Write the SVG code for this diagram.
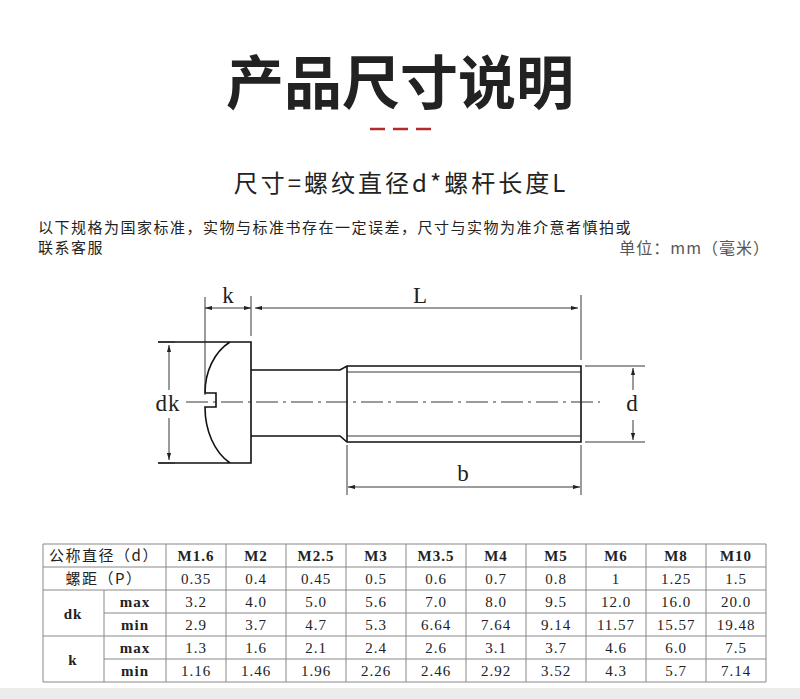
<svg xmlns="http://www.w3.org/2000/svg" width="800" height="699" viewBox="0 0 800 699">
<style>
.cjk{font-family:"Noto Sans CJK SC","Noto Sans",sans-serif}
.ln{stroke:#111;fill:none;stroke-width:1.6}
.th{stroke:#222;fill:none;stroke-width:0.9}
.dl{font-family:"Liberation Serif",serif;font-size:23px;fill:#222}
.tb{stroke:#888;stroke-width:1;fill:none}
.tt{font-family:"Liberation Serif","Noto Sans CJK SC",serif;font-size:15px;fill:#222;text-anchor:middle;letter-spacing:1px}
.tc{font-family:"Noto Sans CJK SC",sans-serif;font-size:15px;fill:#222;text-anchor:middle}
</style>
<defs>
<marker id="a" viewBox="0 0 10 6" refX="10" refY="3" markerWidth="8" markerHeight="5" orient="auto-start-reverse"><path d="M0,0L10,3L0,6z" fill="#222"/></marker>
</defs>
<rect width="800" height="699" fill="#fff"/>
<rect y="688" width="800" height="11" fill="#ececec"/>
<g id="title">
<text x="400" y="104" class="cjk" font-size="58" font-weight="bold" text-anchor="middle" fill="#222">产品尺寸说明</text>
<g stroke="#b32a2a" stroke-width="2.5"><line x1="370" y1="129" x2="385" y2="129"/><line x1="393" y1="129" x2="408" y2="129"/><line x1="416" y1="129" x2="431" y2="129"/></g>
<text x="401" y="192" class="cjk" font-size="24" text-anchor="middle" fill="#222" letter-spacing="3">尺寸=螺纹直径d*螺杆长度L</text>
<text x="38" y="233" class="cjk" font-size="15" fill="#222" letter-spacing="1.5">以下规格为国家标准，实物与标准书存在一定误差，尺寸与实物为准介意者慎拍或</text>
<text x="38" y="253" class="cjk" font-size="15" fill="#222" letter-spacing="1.5">联系客服</text>
<text x="770" y="254" class="cjk" font-size="16" text-anchor="end" fill="#555" letter-spacing="1">单位：mm（毫米）</text>
</g>
<g id="screw">
<path class="ln" d="M158,342H251V463H158M230,342C214,352 205,372 205,393H216V407H205C205,430 214,452 230,463"/>
<path class="ln" d="M251,370H340L347,366H581V442H347L340,436H251"/>
<path class="ln" d="M347,366V442"/>
<path class="th" d="M347,372H581M347,436H581"/>
<path class="th" stroke-dasharray="22,5,3,5" d="M186,402H600"/>
</g>
<g id="connectors" class="th">
<path d="M205,297V395M251,296V336M581,295V360M585,366H645M585,442H645M347,445V495M581,445V495M158,342H175M158,463H175"/>
<line x1="205" y1="308" x2="251" y2="308" marker-start="url(#a)" marker-end="url(#a)"/>
<line x1="255" y1="308" x2="578" y2="308" marker-start="url(#a)" marker-end="url(#a)"/>
<line x1="169" y1="345" x2="169" y2="390" marker-start="url(#a)"/>
<line x1="169" y1="418" x2="169" y2="460" marker-end="url(#a)"/>
<line x1="633" y1="368" x2="633" y2="390" marker-start="url(#a)"/>
<line x1="633" y1="420" x2="633" y2="440" marker-end="url(#a)"/>
<line x1="348" y1="487" x2="580" y2="487" marker-start="url(#a)" marker-end="url(#a)"/>
</g>
<g id="labels">
<text class="dl" x="168" y="411" text-anchor="middle" letter-spacing="1">dk</text>
<text class="dl" x="228" y="303" text-anchor="middle">k</text>
<text class="dl" x="420" y="303" text-anchor="middle">L</text>
<text class="dl" x="632" y="411" text-anchor="middle">d</text>
<text class="dl" x="463" y="481" text-anchor="middle">b</text>
</g>
<g id="table">
<path class="tb" d="M43,544H766M43,567H766M43,590H766M104,613H766M43,636H766M104,659H766M43,682H766M43,544V682M104,590V682M166,544V682M226,544V682M286,544V682M346,544V682M406,544V682M466,544V682M526,544V682M586,544V682M646,544V682M706,544V682M766,544V682"/>
<text class="tc" x="104" y="561" letter-spacing="1.5">公称直径（d）</text>
<text class="tc" x="104" y="584" letter-spacing="1.5">螺距（P）</text>
<text class="tt" x="73" y="619" font-weight="bold">dk</text>
<text class="tt" x="73" y="665" font-weight="bold">k</text>
<g class="tt" font-family="Liberation Mono,monospace" font-weight="bold">
<text x="135" y="607">max</text><text x="135" y="630">min</text><text x="135" y="653">max</text><text x="135" y="676">min</text>
</g>
<g class="tt" font-weight="bold">
<text x="196" y="561">M1.6</text><text x="256" y="561">M2</text><text x="316" y="561">M2.5</text><text x="376" y="561">M3</text><text x="436" y="561">M3.5</text><text x="496" y="561">M4</text><text x="556" y="561">M5</text><text x="616" y="561">M6</text><text x="676" y="561">M8</text><text x="736" y="561">M10</text>
</g>
<g class="tt">
<text x="196" y="584">0.35</text><text x="256" y="584">0.4</text><text x="316" y="584">0.45</text><text x="376" y="584">0.5</text><text x="436" y="584">0.6</text><text x="496" y="584">0.7</text><text x="556" y="584">0.8</text><text x="616" y="584">1</text><text x="676" y="584">1.25</text><text x="736" y="584">1.5</text>
<text x="196" y="607">3.2</text><text x="256" y="607">4.0</text><text x="316" y="607">5.0</text><text x="376" y="607">5.6</text><text x="436" y="607">7.0</text><text x="496" y="607">8.0</text><text x="556" y="607">9.5</text><text x="616" y="607">12.0</text><text x="676" y="607">16.0</text><text x="736" y="607">20.0</text>
<text x="196" y="630">2.9</text><text x="256" y="630">3.7</text><text x="316" y="630">4.7</text><text x="376" y="630">5.3</text><text x="436" y="630">6.64</text><text x="496" y="630">7.64</text><text x="556" y="630">9.14</text><text x="616" y="630">11.57</text><text x="676" y="630">15.57</text><text x="736" y="630">19.48</text>
<text x="196" y="653">1.3</text><text x="256" y="653">1.6</text><text x="316" y="653">2.1</text><text x="376" y="653">2.4</text><text x="436" y="653">2.6</text><text x="496" y="653">3.1</text><text x="556" y="653">3.7</text><text x="616" y="653">4.6</text><text x="676" y="653">6.0</text><text x="736" y="653">7.5</text>
<text x="196" y="676">1.16</text><text x="256" y="676">1.46</text><text x="316" y="676">1.96</text><text x="376" y="676">2.26</text><text x="436" y="676">2.46</text><text x="496" y="676">2.92</text><text x="556" y="676">3.52</text><text x="616" y="676">4.3</text><text x="676" y="676">5.7</text><text x="736" y="676">7.14</text>
</g>
</g>
</svg>
